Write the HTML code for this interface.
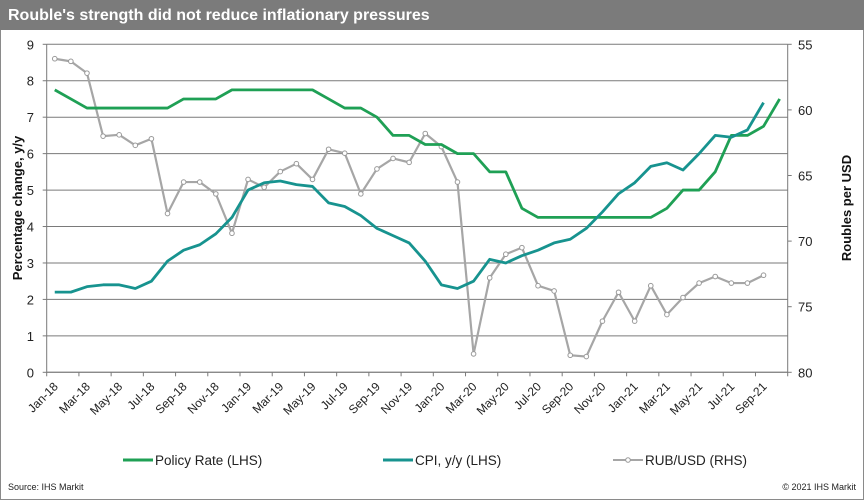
<!DOCTYPE html>
<html><head><meta charset="utf-8"><style>
body{margin:0;width:864px;height:500px;overflow:hidden;background:#fff;font-family:"Liberation Sans",sans-serif}
#wrap{position:absolute;left:0;top:0;width:862px;height:498px;border:1px solid #8a8a8a}
#title{position:absolute;left:0;top:0;width:864px;height:30px;background:#7b7b7b;color:#fff;font-weight:bold;font-size:16px;line-height:32px;padding-left:8px;box-sizing:border-box}
svg{position:absolute;left:0;top:0}
</style></head><body>
<div id="wrap"></div>
<div id="title">Rouble's strength did not reduce inflationary pressures</div>
<svg id="c" width="864" height="500"></svg>
<script>
const months=["Jan","Feb","Mar","Apr","May","Jun","Jul","Aug","Sep","Oct","Nov","Dec"];
const categories=[];for(let y=18;y<=21;y++)for(let m=0;m<12;m++){if(y===21&&m>9)break;categories.push(months[m]+"-"+y);}
const policyRate=[7.75,7.5,7.25,7.25,7.25,7.25,7.25,7.25,7.5,7.5,7.5,7.75,7.75,7.75,7.75,7.75,7.75,7.5,7.25,7.25,7.0,6.5,6.5,6.25,6.25,6.0,6.0,5.5,5.5,4.5,4.25,4.25,4.25,4.25,4.25,4.25,4.25,4.25,4.5,5.0,5.0,5.5,6.5,6.5,6.75,7.5];
const cpi=[2.2,2.2,2.35,2.4,2.4,2.3,2.5,3.05,3.35,3.5,3.8,4.25,5.0,5.2,5.25,5.15,5.1,4.65,4.55,4.3,3.95,3.75,3.55,3.05,2.4,2.3,2.5,3.1,3.0,3.2,3.35,3.55,3.65,3.95,4.4,4.9,5.2,5.65,5.75,5.55,6.0,6.5,6.45,6.65,7.4];
const rub=[56.1,56.3,57.2,62.0,61.9,62.7,62.2,67.9,65.5,65.5,66.4,69.4,65.3,65.9,64.7,64.1,65.3,63.0,63.3,66.4,64.5,63.7,64.0,61.8,62.8,65.5,78.6,72.8,71.0,70.5,73.4,73.8,78.7,78.8,76.1,73.9,76.1,73.4,75.6,74.3,73.2,72.7,73.2,73.2,72.6];
const leftTicks=[0,1,2,3,4,5,6,7,8,9];
const rightTicks=[55,60,65,70,75,80];
const X0=46.7,X1=787.7,Y0=372.3,Y1=44.3,N=categories.length;
const bw=(X1-X0)/N;
const xS=i=>X0+bw*(i+0.5);
const yL=v=>Y0-(v/9)*(Y0-Y1);
const yR=v=>Y1+(v-55)/25*(Y0-Y1);
const svg=document.getElementById('c');const NS="http://www.w3.org/2000/svg";
function mk(t,a,p){const e=document.createElementNS(NS,t);for(const k in a)e.setAttribute(k,a[k]);(p||svg).appendChild(e);return e;}
leftTicks.forEach(v=>{const y=yL(v);
 const g=mk('line',{x1:X0,x2:X1,y1:y,y2:y,stroke:'#7a7a7a','stroke-width':1});
 
 
 mk('line',{x1:X0-4,x2:X0,y1:y,y2:y,stroke:'#7a7a7a'});
 const t=mk('text',{x:34,y:y+5,'text-anchor':'end','font-size':13,fill:'#222'});t.textContent=v;
 
 
});
rightTicks.forEach(v=>{const y=yR(v);
 mk('line',{x1:X1,x2:X1+4,y1:y,y2:y,stroke:'#7a7a7a'});
 const t=mk('text',{x:798,y:y+5,'font-size':13,fill:'#222'});t.textContent=v;
 
 
});
mk('line',{x1:X0,x2:X0,y1:Y1,y2:Y0,stroke:'#7a7a7a'});
mk('line',{x1:X1,x2:X1,y1:Y1,y2:Y0,stroke:'#7a7a7a'});
mk('line',{x1:X0,x2:X1,y1:Y0,y2:Y0,stroke:'#7a7a7a'});
for(let i=0;i<=N;i+=2){const x=X0+bw*i;mk('line',{x1:x,x2:x,y1:Y0,y2:Y0+4,stroke:'#7a7a7a'});}
categories.forEach((c,i)=>{if(i%2)return;const x=X0+bw*i+12,y=Y0+15;
 const t=mk('text',{x:x,y:y,'text-anchor':'end','font-size':12,fill:'#222',transform:`rotate(-45 ${x} ${y})`});t.textContent=c;
 
 
});
let t=mk('text',{x:22,y:208,'text-anchor':'middle','font-size':13,'font-weight':'bold',fill:'#111',transform:'rotate(-90 22 208)'});t.textContent='Percentage change, y/y';

t=mk('text',{x:851,y:208,'text-anchor':'middle','font-size':13,'font-weight':'bold',fill:'#111',transform:'rotate(-90 851 208)'});t.textContent='Roubles per USD';

function line(vals,f,col,w,name){const p=mk('polyline',{points:vals.map((v,i)=>xS(i)+','+f(v)).join(' '),fill:'none',stroke:col,'stroke-width':w,'stroke-linejoin':'round'});
 
 return p;}
line(rub,yR,'#a6a6a6',2.2,'rub-usd-line');
rub.forEach((v,i)=>{const c=mk('circle',{cx:xS(i),cy:yR(v),r:2.3,fill:'#fff',stroke:'#9a9a9a','stroke-width':1});
 
 });
line(policyRate,yL,'#1fa055',2.8,'policy-rate-line');
line(cpi,yL,'#17938f',2.8,'cpi-line');
function leg(x,col,label,name,marker){mk('line',{x1:x,x2:x+30,y1:460,y2:460,stroke:col,'stroke-width':marker?2:3});
 if(marker)mk('circle',{cx:x+15,cy:460,r:2.3,fill:'#fff',stroke:'#9a9a9a'});
 const t=mk('text',{x:x+32,y:465,'font-size':13.5,fill:'#222'});t.textContent=label;
 
 }
leg(123,'#1fa055','Policy Rate (LHS)','legend-policy-rate');
leg(383,'#17938f','CPI, y/y (LHS)','legend-cpi');
leg(613,'#a6a6a6','RUB/USD (RHS)','legend-rub-usd',true);
t=mk('text',{x:8,y:490,'font-size':9,fill:'#222'});t.textContent='Source: IHS Markit';

t=mk('text',{x:856,y:490,'text-anchor':'end','font-size':9,fill:'#222'});t.textContent='© 2021  IHS Markit';

</script>
</body></html>
